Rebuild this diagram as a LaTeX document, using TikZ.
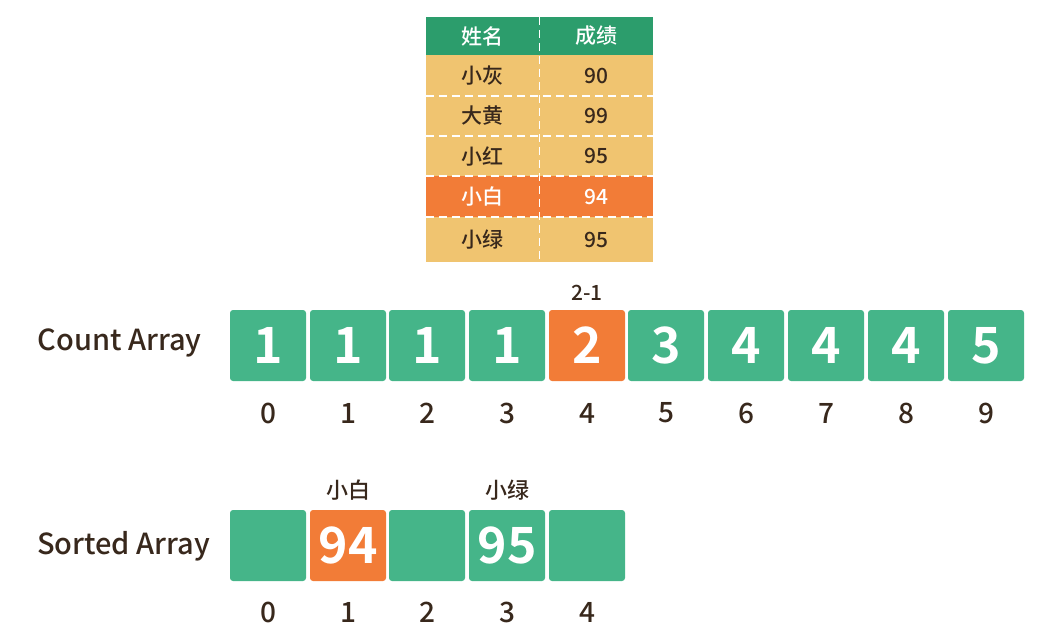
\documentclass[tikz,border=0pt]{standalone}
\usepackage{fontspec}
\setmainfont{Noto Sans CJK SC}[UprightFont={* Medium}, BoldFont={* Bold}]
\definecolor{boxgreen}{RGB}{69,181,137}
\definecolor{headgreen}{RGB}{44,157,108}
\definecolor{tan}{RGB}{240,196,112}
\definecolor{hotorange}{RGB}{242,124,55}
\definecolor{ink}{RGB}{56,40,28}
\tikzset{
	cell/.style={fill=boxgreen, rounded corners=3pt, minimum width=76pt, minimum height=71pt, inner sep=0pt, text=white, font=\fontsize{50}{50}\selectfont\bfseries},
	hot/.style={cell, fill=hotorange},
	idx/.style={text=ink, font=\fontsize{28}{28}\selectfont},
	lbl/.style={text=ink, font=\fontsize{29}{29}\selectfont},
	tag/.style={text=ink, font=\fontsize{21}{21}\selectfont},
	tcell/.style={fill=tan, inner sep=0pt, text=ink, font=\fontsize{21}{21}\selectfont},
	namecol/.style={tcell, minimum width=113pt},
	scorecol/.style={tcell, minimum width=114pt},
	sep/.style={white, line width=1.4pt, dash pattern=on 8pt off 5pt}
}

\begin{document}
\begin{tikzpicture}[x=1pt,y=-1pt]
		\useasboundingbox (0,0) rectangle (1038,636);
		% table
		\node[namecol, minimum height=38pt, fill=headgreen, text=white] (n0) at (482.5,36) {姓名};
		\node[scorecol, minimum height=38pt, fill=headgreen, text=white] (s0) at (596,36) {成绩};
		\node[namecol, minimum height=41pt] (n1) at (482.5,75.5) {小灰};
		\node[scorecol, minimum height=41pt] (s1) at (596,75.5) {90};
		\node[namecol, minimum height=40pt] (n2) at (482.5,116) {大黄};
		\node[scorecol, minimum height=40pt] (s2) at (596,116) {99};
		\node[namecol, minimum height=40pt] (n3) at (482.5,156) {小红};
		\node[scorecol, minimum height=40pt] (s3) at (596,156) {95};
		\node[namecol, minimum height=41pt, fill=hotorange, text=white] (n4) at (482.5,196.5) {小白};
		\node[scorecol, minimum height=41pt, fill=hotorange, text=white] (s4) at (596,196.5) {94};
		\node[namecol, minimum height=45pt] (n5) at (482.5,239.5) {小绿};
		\node[scorecol, minimum height=45pt] (s5) at (596,239.5) {95};
		\draw[sep] (n0.north east) -- (n5.south east);
		\draw[sep] (n1.south west) -- (s1.south east);
		\draw[sep] (n2.south west) -- (s2.south east);
		\draw[sep] (n3.south west) -- (s3.south east);
		\draw[sep] (n4.south west) -- (s4.south east);
		% count array
		\node[lbl] (countlbl) at (119.5,343) {Count Array};
		\node[cell] (c0) at (268,345.5) {1};
		\node[cell] (c1) at (348,345.5) {1};
		\node[cell] (c2) at (427,345.5) {1};
		\node[cell] (c3) at (507,345.5) {1};
		\node[hot] (c4) at (587,345.5) {2};
		\node[cell] (c5) at (666,345.5) {3};
		\node[cell] (c6) at (746,345.5) {4};
		\node[cell] (c7) at (826,345.5) {4};
		\node[cell] (c8) at (906,345.5) {4};
		\node[cell] (c9) at (986,345.5) {5};
		\node[tag] (dec) at (587,293) {2-1};
		\node[idx] (ci0) at (268,413) {0};
		\node[idx] (ci1) at (348,413) {1};
		\node[idx] (ci2) at (427,413) {2};
		\node[idx] (ci3) at (507,413) {3};
		\node[idx] (ci4) at (587,413) {4};
		\node[idx] (ci5) at (666,413) {5};
		\node[idx] (ci6) at (746,413) {6};
		\node[idx] (ci7) at (826,413) {7};
		\node[idx] (ci8) at (906,413) {8};
		\node[idx] (ci9) at (986,413) {9};
		% sorted array
		\node[lbl] (sortlbl) at (123.5,546) {Sorted Array};
		\node[cell] (o0) at (268,545.5) {};
		\node[hot] (o1) at (348,545.5) {94};
		\node[cell] (o2) at (427,545.5) {};
		\node[cell] (o3) at (507,545.5) {95};
		\node[cell] (o4) at (587,545.5) {};
		\node[tag, font=\fontsize{22}{22}\selectfont] (who1) at (348,490) {小白};
		\node[tag, font=\fontsize{22}{22}\selectfont] (who3) at (507,490) {小绿};
		\node[idx] (oi0) at (268,612) {0};
		\node[idx] (oi1) at (348,612) {1};
		\node[idx] (oi2) at (427,612) {2};
		\node[idx] (oi3) at (507,612) {3};
		\node[idx] (oi4) at (587,612) {4};
\end{tikzpicture}
\end{document}
